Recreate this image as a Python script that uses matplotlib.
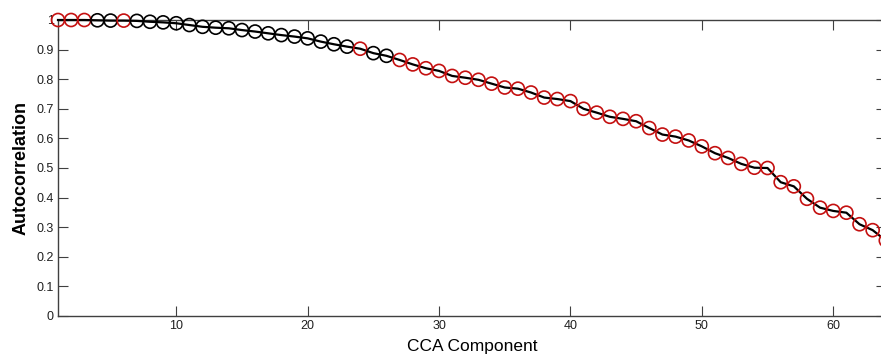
import matplotlib
matplotlib.use("Agg")
import matplotlib.pyplot as plt
import numpy as np

# CCA component index
components = list(range(1, 65))
# Autocorrelation values
autocorr = [1.000, 1.000, 1.000, 0.999, 0.998, 0.998, 0.997, 0.994, 0.992, 0.989,
            0.983, 0.977, 0.974, 0.972, 0.966, 0.961, 0.955, 0.949, 0.944, 0.938,
            0.927, 0.918, 0.910, 0.903, 0.888, 0.879, 0.865, 0.850, 0.837, 0.828,
            0.811, 0.805, 0.798, 0.785, 0.772, 0.768, 0.755, 0.738, 0.733, 0.726,
            0.700, 0.687, 0.673, 0.666, 0.658, 0.635, 0.613, 0.606, 0.593, 0.573,
            0.550, 0.534, 0.514, 0.501, 0.500, 0.452, 0.438, 0.396, 0.366, 0.355,
            0.349, 0.310, 0.290, 0.255]
# group of each component: 'r' = red marker, 'k' = black marker
groups = (['r', 'r', 'r', 'k', 'k', 'r'] + ['k'] * 17 + ['r', 'k', 'k'] + ['r'] * 38)

xticks = [10, 20, 30, 40, 50, 60]
yticks = [0, 0.1, 0.2, 0.3, 0.4, 0.5, 0.6, 0.7, 0.8, 0.9, 1]
ytick_labels = ['0', '0.1', '0.2', '0.3', '0.4', '0.5', '0.6', '0.7', '0.8', '0.9', '1']

plt.rcParams['font.family'] = ['Liberation Sans', 'DejaVu Sans']

W, H = 881, 354
fig = plt.figure(figsize=(W / 100, H / 100), dpi=100)
left, right, top, bottom = 58, 885.8, 20, 316
ax = fig.add_axes([left / W, 1 - bottom / H, (right - left) / W, (bottom - top) / H])

color_map = {'r': '#c41010', 'k': '#000000'}
cols = [color_map[g] for g in groups]

ax.plot(components, autocorr, color='black', lw=1.6, zorder=3, clip_on=False)
ax.scatter(components, autocorr, s=88, facecolors='none', edgecolors=cols,
           linewidths=1.2, zorder=4, clip_on=False)

ax.set_xlim(1, 64)
ax.set_ylim(0, 1)
ax.set_xticks(xticks)
ax.set_yticks(yticks)
ax.set_yticklabels(ytick_labels)
for s in ax.spines.values():
    s.set_color('#404040')
    s.set_linewidth(1.0)
ax.tick_params(direction='in', length=7, width=0.8, colors='#404040',
               labelcolor='#202020', labelsize=9, top=True, right=True, pad=3)

ax.set_xlabel('CCA Component', fontsize=12.5, labelpad=5)
ax.set_ylabel('Autocorrelation', fontsize=13, fontweight='bold', labelpad=5)

fig.savefig('out.png', dpi=100)
